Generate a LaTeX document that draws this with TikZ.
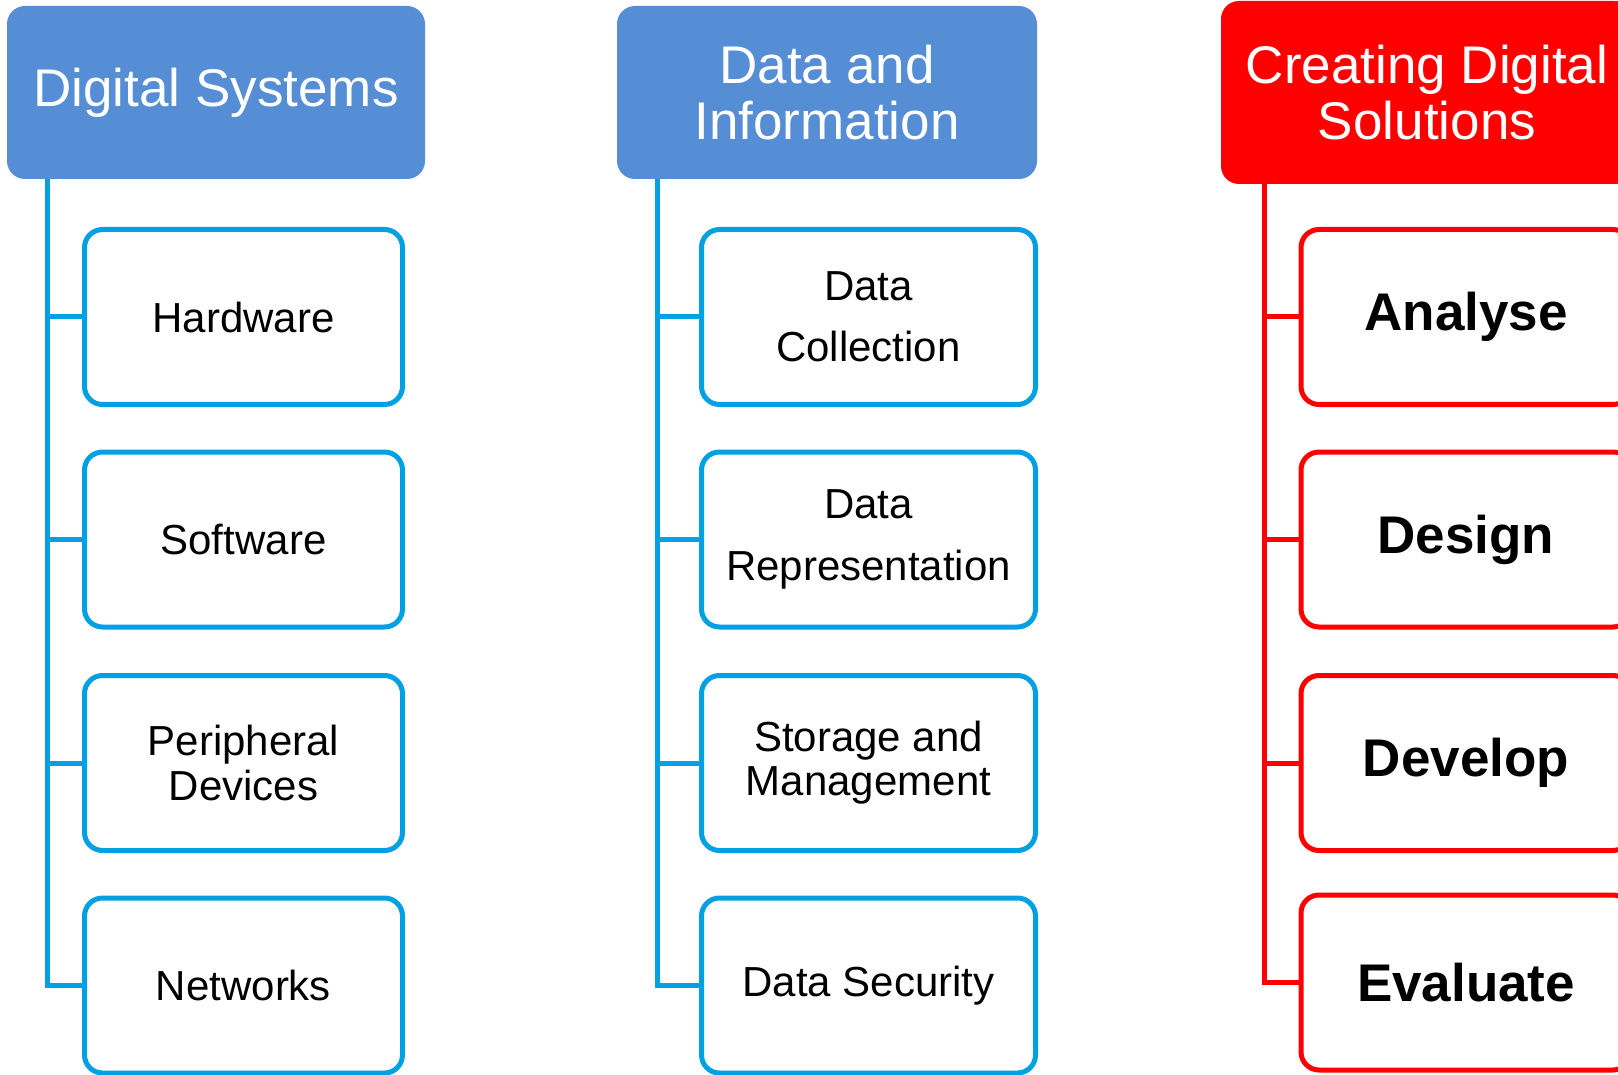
\documentclass[tikz,border=0pt]{standalone}
\usepackage{fontspec}
\setmainfont{Liberation Sans}

\definecolor{headblue}{RGB}{85,142,213}
\definecolor{linkblue}{RGB}{0,160,227}
\definecolor{solred}{RGB}{255,0,0}

\tikzset{
  head/.style={rounded corners=9pt, inner sep=0pt, align=center, text=white,
    font=\fontsize{26.5pt}{28pt}\selectfont},
  bluehead/.style={head, fill=headblue, minimum height=86.5pt},
  redhead/.style={head, fill=solred, minimum height=91.5pt},
  item/.style={rounded corners=9pt, inner sep=0pt, align=center, fill=white,
    line width=2.5pt, minimum height=87.5pt},
  blueitem/.style={item, draw=linkblue, font=\fontsize{21pt}{30.5pt}\selectfont},
  reditem/.style={item, draw=solred, font=\bfseries\fontsize{26.5pt}{30pt}\selectfont},
  bluelink/.style={draw=linkblue, line width=2.5pt},
  redlink/.style={draw=solred, line width=2.5pt},
}

\begin{document}
\begin{tikzpicture}[x=0.5pt, y=-0.5pt]
  \useasboundingbox (0,0) rectangle (1618,1075);
  \clip (0,0) rectangle (1618,1075);

  % ---- Digital Systems ----
  \node[bluehead, minimum width=209pt] (h1) at (216,92.5) {Digital Systems};
  \coordinate (s1) at (47,179);
  \node[blueitem, minimum width=159pt] (a1) at (243.5,317) {Hardware};
  \node[blueitem, minimum width=159pt] (a2) at (243.5,539.5) {Software};
  \node[blueitem, minimum width=159pt, font=\fontsize{21pt}{22.5pt}\selectfont] (a3) at (243.5,763) {Peripheral\\Devices};
  \node[blueitem, minimum width=159pt] (a4) at (243.5,985.5) {Networks};
  \draw[bluelink] (s1) |- (a4.west);
  \foreach \n in {a1,a2,a3}
    \draw[bluelink] (\n.west) -- (\n.west -| s1);

  % ---- Data and Information ----
  \node[bluehead, minimum width=210pt] (h2) at (827,92.5) {Data and\\Information};
  \coordinate (s2) at (657,179);
  \node[blueitem, minimum width=167pt] (b1) at (868.5,317) {Data\\Collection};
  \node[blueitem, minimum width=167pt, font=\fontsize{21pt}{31pt}\selectfont] (b2) at (868.5,539.5) {Data\\Representation};
  \node[blueitem, minimum width=167pt, font=\fontsize{21pt}{22pt}\selectfont] (b3) at (868.5,763) {Storage and\\Management};
  \node[blueitem, minimum width=167pt] (b4) at (868.5,985.5) {Data Security};
  \draw[bluelink] (s2) |- (b4.west);
  \foreach \n in {b1,b2,b3}
    \draw[bluelink] (\n.west) -- (\n.west -| s2);

  % ---- Creating Digital Solutions ----
  \node[redhead, minimum width=206pt] (h3) at (1427,92.5) {Creating Digital\\Solutions};
  \coordinate (s3) at (1264,184);
  \node[reditem, minimum width=165pt] (c1) at (1466,317) {Analyse};
  \node[reditem, minimum width=165pt] (c2) at (1466,539.5) {Design};
  \node[reditem, minimum width=165pt] (c3) at (1466,763) {Develop};
  \node[reditem, minimum width=165pt] (c4) at (1466,982.5) {Evaluate};
  \draw[redlink] (s3) |- (c4.west);
  \foreach \n in {c1,c2,c3}
    \draw[redlink] (\n.west) -- (\n.west -| s3);
\end{tikzpicture}
\end{document}
